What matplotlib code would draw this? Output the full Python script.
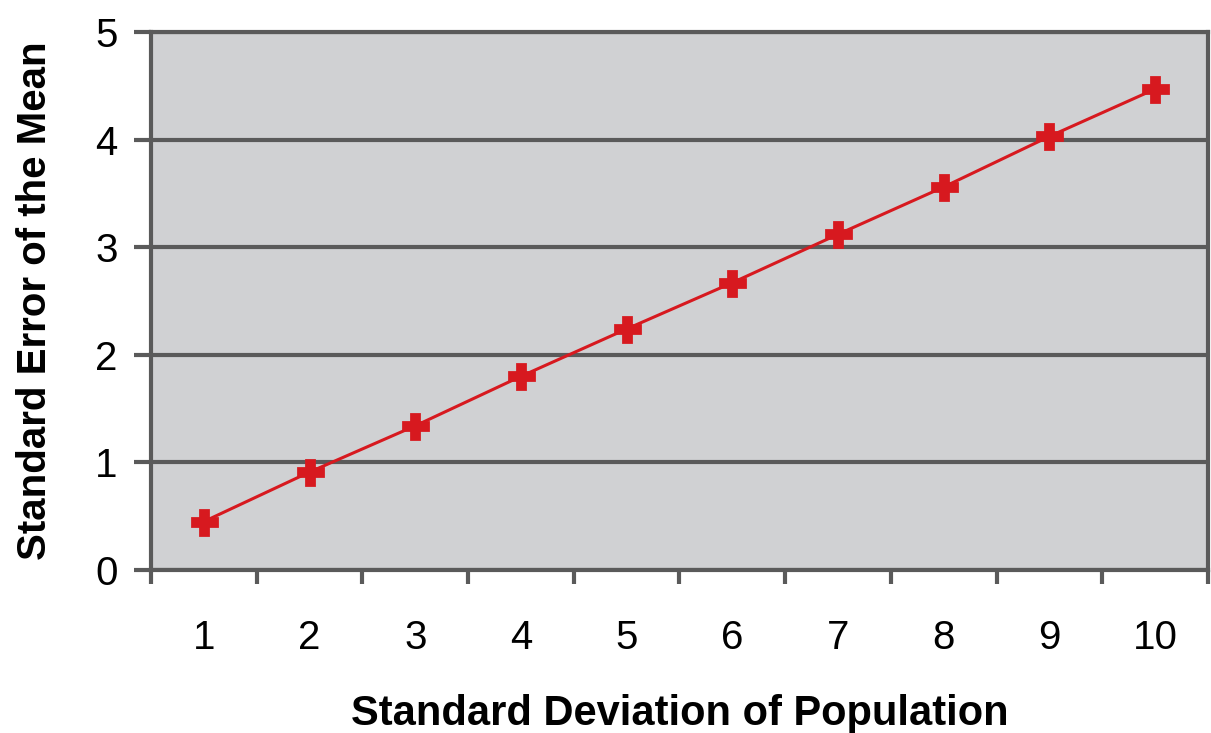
import matplotlib.pyplot as plt
import numpy as np

# Standard error of the mean vs population SD
sd_pop = [1, 2, 3, 4, 5, 6, 7, 8, 9, 10]
sem = [0.45, 0.91, 1.34, 1.80, 2.24, 2.67, 3.12, 3.56, 4.03, 4.47]
y_ticks = [0, 1, 2, 3, 4, 5]

plt.rcParams['font.family'] = ['Liberation Sans', 'DejaVu Sans']

fig = plt.figure(figsize=(12.11, 7.33), dpi=100)
ax = fig.add_axes([0.1247, 0.2224, 0.8728, 0.7339])
ax.set_facecolor('#d0d1d3')

ax.plot(sd_pop, sem, color='#d7191f', lw=2.2, marker='P', markersize=18,
        markeredgecolor='#d7191f', markeredgewidth=2, zorder=3)

ax.set_xlim(0.5, 10.5)
ax.set_ylim(0, 5)
ax.set_yticks(y_ticks)
ax.yaxis.grid(True, color='#5a5a5a', lw=3)
ax.set_axisbelow(True)

# category style axis: ticks between categories, labels at the centres
ax.set_xticks(np.arange(0.5, 11, 1))
ax.set_xticklabels([])
ax.set_xticks(sd_pop, minor=True)
ax.set_xticklabels([str(v) for v in sd_pop], minor=True)
ax.tick_params(axis='x', which='major', length=10, width=3, color='#5a5a5a', direction='out')
ax.tick_params(axis='x', which='minor', length=0, pad=35, labelsize=29)
ax.tick_params(axis='y', length=12, width=3, color='#5a5a5a', labelsize=29, pad=12)

for s in ['left', 'bottom', 'right', 'top']:
    ax.spines[s].set_color('#5a5a5a')
    ax.spines[s].set_linewidth(3)

ax.set_xlabel('Standard Deviation of Population', fontsize=30, fontweight='bold', labelpad=27)
ax.set_ylabel('Standard Error of the Mean', fontsize=29, fontweight='bold', labelpad=30)

fig.savefig('out.png', dpi=100)
